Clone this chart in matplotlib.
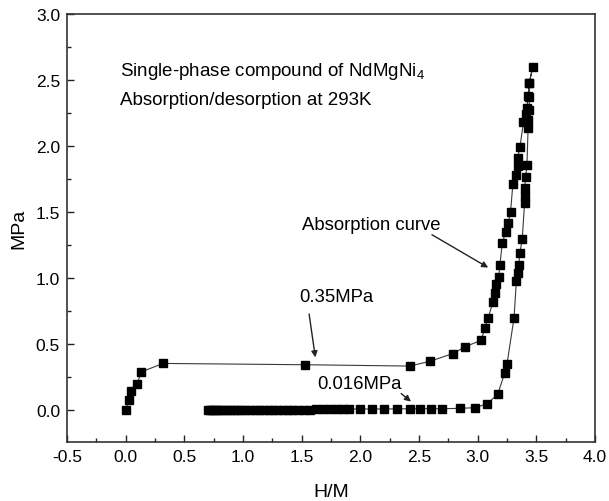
import numpy as np
import matplotlib
matplotlib.use('Agg')
import matplotlib.pyplot as plt
from matplotlib.ticker import MultipleLocator

plt.rcParams['font.family'] = ['Liberation Sans', 'DejaVu Sans']
plt.rcParams['mathtext.fontset'] = 'custom'
plt.rcParams['mathtext.rm'] = 'Liberation Sans'

# absorption branch (H/M, MPa)
abs_x = [0.00, 0.03, 0.045, 0.10, 0.13, 0.32, 1.53, 2.42, 2.59, 2.79, 2.89, 3.03,
         3.06, 3.09, 3.13, 3.15, 3.16, 3.18, 3.19, 3.21, 3.24, 3.26, 3.28, 3.30,
         3.33, 3.34, 3.34, 3.36, 3.39, 3.41, 3.42, 3.43, 3.44, 3.47]
abs_p = [0.00, 0.08, 0.15, 0.20, 0.29, 0.355, 0.345, 0.335, 0.37, 0.43, 0.48, 0.53,
         0.62, 0.70, 0.82, 0.89, 0.96, 1.01, 1.10, 1.27, 1.35, 1.42, 1.50, 1.71,
         1.78, 1.85, 1.91, 1.99, 2.18, 2.24, 2.29, 2.38, 2.48, 2.60]

# desorption branch, from the top down
des_x = [3.47, 3.44, 3.44, 3.44, 3.43, 3.43, 3.42, 3.41, 3.40, 3.40, 3.40, 3.38,
         3.36, 3.35, 3.34, 3.33, 3.31, 3.25, 3.23, 3.17, 3.08, 2.98, 2.85, 2.70,
         2.60, 2.51, 2.42, 2.31, 2.20, 2.10, 2.00, 1.90, 1.85, 1.80, 1.74, 1.68,
         1.62, 1.57, 1.52, 1.47, 1.42, 1.38, 1.34, 1.30, 1.26, 1.22, 1.18, 1.14,
         1.10, 1.06, 1.02, 0.98, 0.95, 0.92, 0.89, 0.86, 0.83, 0.80, 0.78, 0.76,
         0.74, 0.72, 0.70]
des_p = [2.60, 2.48, 2.37, 2.27, 2.20, 2.14, 1.86, 1.77, 1.68, 1.62, 1.57, 1.30,
         1.19, 1.10, 1.04, 0.98, 0.70, 0.35, 0.28, 0.12, 0.05, 0.02, 0.015, 0.012,
         0.012, 0.012, 0.012, 0.011, 0.010, 0.010, 0.010, 0.009, 0.009, 0.008, 0.008, 0.007,
         0.007, 0.006, 0.006, 0.005, 0.005, 0.005, 0.004, 0.004, 0.004, 0.003, 0.003, 0.003,
         0.003, 0.002, 0.002, 0.002, 0.002, 0.001, 0.001, 0.001, 0.001, 0.001, 0.000, 0.000,
         0.000, 0.000, 0.000]

x = abs_x + des_x[1:]
p = abs_p + des_p[1:]

fig = plt.figure(figsize=(6.09, 5.02), dpi=100)
ax = fig.add_axes([0.110, 0.1175, 0.867, 0.8525])

ax.plot(x, p, '-', color='#3a3a3a', lw=0.8, marker='s', markersize=5.5,
        markerfacecolor='black', markeredgecolor='black')

ax.set_xlim(-0.5, 4.0)
ax.set_ylim(-0.24, 3.0)
ax.xaxis.set_major_locator(MultipleLocator(0.5))
ax.xaxis.set_minor_locator(MultipleLocator(0.25))
ax.yaxis.set_major_locator(MultipleLocator(0.5))
ax.yaxis.set_minor_locator(MultipleLocator(0.25))
ax.xaxis.set_major_formatter(matplotlib.ticker.FormatStrFormatter('%.1f'))
ax.yaxis.set_major_formatter(matplotlib.ticker.FormatStrFormatter('%.1f'))
ax.tick_params(which='both', direction='in', top=False, right=False,
               labelsize=12.5, width=1.0, color='#222222')
ax.tick_params(which='major', length=5, pad=5)
ax.tick_params(which='minor', length=3)
for s in ax.spines.values():
    s.set_linewidth(1.2)
    s.set_color('#333333')

ax.set_xlabel('H/M', fontsize=14, labelpad=14)
ax.set_ylabel('MPa', fontsize=14, labelpad=6)

ax.text(-0.05, 2.57, 'Single-phase compound of NdMgNi$_{\\mathrm{4}}$', fontsize=13.5,
        va='center', ha='left')
ax.text(-0.05, 2.35, 'Absorption/desorption at 293K', fontsize=13.5,
        va='center', ha='left')

arrow = dict(arrowstyle='-|>', color='#222222', lw=1.0, mutation_scale=9)
ax.text(1.50, 1.41, 'Absorption curve', fontsize=13.3, va='center', ha='left')
ax.annotate('', xy=(3.11, 1.07), xytext=(2.59, 1.34), arrowprops=arrow)
ax.text(1.48, 0.86, '0.35MPa', fontsize=13.3, va='center', ha='left')
ax.annotate('', xy=(1.62, 0.38), xytext=(1.56, 0.75), arrowprops=arrow)
ax.text(1.63, 0.20, '0.016MPa', fontsize=13.3, va='center', ha='left')
ax.annotate('', xy=(2.45, 0.053), xytext=(2.33, 0.14), arrowprops=arrow)

fig.savefig('out.png', dpi=100)
